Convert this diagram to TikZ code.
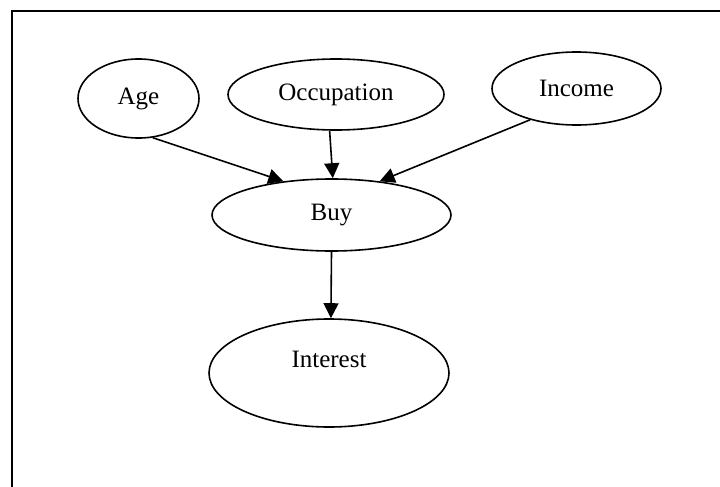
\documentclass[tikz,border=0pt]{standalone}
\usepackage{fontspec}
\setmainfont{Liberation Serif}
\usetikzlibrary{shapes.geometric,arrows.meta}
\begin{document}
\begin{tikzpicture}[x=1pt,y=-1pt,
  var/.style={draw,ellipse,line width=1.6pt,inner sep=0pt,
    font=\fontsize{25}{30}\selectfont},
  edge/.style={line width=1.6pt,-{Triangle[length=15pt,width=15pt]}}]
  \useasboundingbox (0,0) rectangle (720,487);
  % frame: top and left sides only
  \coordinate (fbl) at (12,487);
  \coordinate (ftl) at (12,11);
  \coordinate (ftr) at (720,11);
  \draw[line width=2.2pt] (fbl) -- (ftl) -- (ftr);
  % variables
  \node[var,minimum width=121pt,minimum height=79pt] (age) at (138.5,98.5) {Age};
  \node[var,minimum width=216pt,minimum height=71pt] (occ) at (336,94.5) {Occupation};
  \node[var,minimum width=169pt,minimum height=73pt] (inc) at (576.5,88.5) {Income};
  \node[var,minimum width=239pt,minimum height=72pt] (buy) at (331.5,215) {Buy};
  \node[var,minimum width=240pt,minimum height=108pt,
    label={[font=\fontsize{25}{30}\selectfont,yshift=14pt]center:Interest}] (int) at (329,373) {};
  % dependencies
  \draw[edge] (age.-70) -- (buy.145);
  \draw[edge] (occ.-100) -- (buy.88);
  \draw[edge] (inc.-146) -- (buy.35);
  \draw[edge] (buy.-90) -- (int.88);
\end{tikzpicture}
\end{document}
